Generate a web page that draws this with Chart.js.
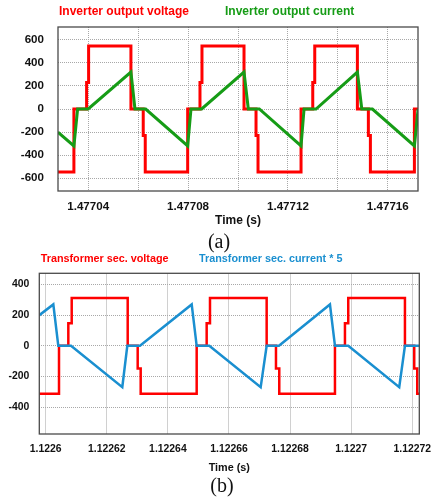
<!DOCTYPE html>
<html>
<head>
<meta charset="utf-8">
<script src="https://cdn.jsdelivr.net/npm/chart.js@4.4.0/dist/chart.umd.min.js"></script>
<style>
  body { margin: 0; background: #fff; }
  #wrap { position: relative; width: 432px; height: 500px; }
  canvas { position: absolute; left: 0; }
  .cap { position: absolute; width: 40px; text-align: center;
         font-family: "Liberation Serif", "Times New Roman", serif;
         font-size: 20px; line-height: 20px; color: #111; }
</style>
</head>
<body>
<div id="wrap">
  <canvas id="chartA" width="432" height="232" style="top:0"></canvas>
  <div class="cap" style="left:199px; top:231px">(a)</div>
  <canvas id="chartB" width="432" height="228" style="top:248px"></canvas>
  <div class="cap" style="left:202px; top:475px">(b)</div>
</div>
<script>
//(a) inverter output, time in seconds
const tVoltA = [1.4770275, 1.47703427, 1.47703427, 1.47703936, 1.47703936, 1.47704016, 1.47704016,
  1.47705711, 1.47705711, 1.47706204, 1.47706204, 1.47706285, 1.47706285, 1.47707984, 1.47707984,
  1.47708477, 1.47708477, 1.47708557, 1.47708557, 1.47710241, 1.47710241, 1.47710722, 1.47710722,
  1.47710802, 1.47710802, 1.47712525, 1.47712525, 1.47712994, 1.47712994, 1.47713074, 1.47713074,
  1.47714782, 1.47714782, 1.47715222, 1.47715222, 1.47715303, 1.47715303, 1.47717066, 1.47717066, 1.4771725];
const vVoltA = [-545, -545, 0, 0, 230, 230, 545, 545, 0, 0, -230, -230, -545, -545, 0, 0, 230, 230, 545, 545,
  0, 0, -230, -230, -545, -545, 0, 0, 230, 230, 545, 545, 0, 0, -230, -230, -545, -545, 0, 0];
const tCurA = [1.47702786, 1.47703427, 1.47703575, 1.47704000, 1.47705711, 1.47705872, 1.47706301,
  1.47707984, 1.47708116, 1.47708545, 1.47710241, 1.47710413, 1.47710854, 1.47712525, 1.47712646,
  1.47713126, 1.47714782, 1.47714958, 1.47715383, 1.47717066, 1.47717214];
const iCurA = [-200, -320, 0, 0, 320, 0, 0, -320, 0, 0, 320, 0, 0, -320, 0, 0, 320, 0, 0, -320, 0];
const xTicksA = [1.47704, 1.47706, 1.47708, 1.4771, 1.47712, 1.47714, 1.47716];
const xLabelsA = ['1.47704', '', '1.47708', '', '1.47712', '', '1.47716'];
const yTicksA = [-600, -400, -200, 0, 200, 400, 600];

//(b) transformer secondary
const tVoltB = [1.1225975, 1.12260435, 1.12260435, 1.1226074, 1.1226074, 1.12260851, 1.12260851,
  1.12262684, 1.12262684, 1.12263011, 1.12263011, 1.12263109, 1.12263109, 1.12264942, 1.12264942,
  1.12265269, 1.12265269, 1.12265378, 1.12265378, 1.12267233, 1.12267233, 1.12267538, 1.12267538,
  1.12267646, 1.12267646, 1.12269469, 1.12269469, 1.12269796, 1.12269796, 1.12269904, 1.12269904,
  1.1227176, 1.1227176, 1.12272064, 1.12272064, 1.12272162, 1.12272162, 1.1227225];
const vVoltB = [-312, -312, 0, 0, 148, 148, 312, 312, 0, 0, -148, -148, -312, -312, 0, 0, 148, 148, 312, 312,
  0, 0, -148, -148, -312, -312, 0, 0, 148, 148, 312, 312, 0, 0, -148, -148, -312, -312];
const tCurB = [1.12259791, 1.12260249, 1.12260412, 1.12260828, 1.12262507, 1.12262671, 1.12263086,
  1.12264779, 1.12264942, 1.12265355, 1.12267037, 1.12267233, 1.12267636, 1.12269305, 1.12269469,
  1.12269904, 1.12271573, 1.1227176, 1.1227225];
const iCurB = [200, 270, 0, 0, -270, 0, 0, 270, 0, 0, -270, 0, 0, 270, 0, 0, -270, 0, 0];
const xTicksB = [1.1226, 1.12262, 1.12264, 1.12266, 1.12268, 1.1227, 1.12272];
const xLabelsB = ['1.1226', '1.12262', '1.12264', '1.12266', '1.12268', '1.1227', '1.12272'];
const yTicksB = [-400, -200, 0, 200, 400];

const FAMILY = '"Liberation Sans", Arial, sans-serif';

//box round the plot area
const frameBox = {
  id: 'frameBox',
  afterDatasetsDraw(chart) {
    const { ctx, chartArea: a } = chart;
    ctx.save();
    ctx.strokeStyle = '#4a4a4a';
    ctx.lineWidth = 1.3;
    ctx.strokeRect(a.left, a.top, a.right - a.left, a.bottom - a.top);
    ctx.restore();
  }
};

//coloured series names above the plot, no swatches
const textLegend = {
  id: 'textLegend',
  afterDraw(chart, args, o) {
    const ctx = chart.ctx;
    ctx.save();
    ctx.font = 'bold ' + o.size + 'px ' + FAMILY;
    ctx.textBaseline = 'middle';
    ctx.textAlign = 'left';
    chart.data.datasets.forEach((ds, i) => {
      ctx.fillStyle = ds.borderColor;
      ctx.fillText(ds.label, o.x[i], o.y);
    });
    ctx.restore();
  }
};

function toPoints(xs, ys) {
  return xs.map((x, i) => ({ x: x, y: ys[i] }));
}

makeChart('chartA', {
  labels: ['Inverter output voltage', 'Inverter output current'],
  tV: tVoltA, vV: vVoltA, tI: tCurA, vI: iCurA,
  curColor: '#169c16', lineWidth: 3, fontSize: 12, tickSize: 11.6,
  xMin: 1.4770279, xMax: 1.4771721, xTicks: xTicksA, xLabels: xLabelsA,
  yMin: -710, yMax: 710, yTicks: yTicksA,
  pad: { top: 27, left: 0, right: 14, bottom: 0 },
  legendX: [59, 225], legendY: 12,
  yAxisW: 58, yTickPad: 14, xAxisH: 41, titlePad: 4,
  vGridColor: '#a8a8a8', vDash: [1, 1]
});

makeChart('chartB', {
  labels: ['Transformer sec. voltage', 'Transformer sec. current * 5'],
  tV: tVoltB, vV: vVoltB, tI: tCurB, vI: iCurB,
  curColor: '#1a8fd0', lineWidth: 2.5, fontSize: 10.8, tickSize: 10.4,
  xMin: 1.1225979, xMax: 1.1227223, xTicks: xTicksB, xLabels: xLabelsB,
  yMin: -575, yMax: 473, yTicks: yTicksB,
  pad: { top: 25.3, left: 0, right: 12.7, bottom: 0 },
  legendX: [40.7, 199], legendY: 11,
  yAxisW: 39.3, yTickPad: 10, xAxisH: 42, titlePad: 1.5,
  vGridColor: '#d0d0d0', vDash: []
});

function makeChart(container, opt) {
  let ctx = document.getElementById(container).getContext('2d');
  const tickFont = { family: FAMILY, size: opt.tickSize, weight: 'bold' };
  return new Chart(ctx, {
    type: 'line',
    data: {
      datasets: [
        { label: opt.labels[0], data: toPoints(opt.tV, opt.vV), borderColor: '#ff0000',
          borderWidth: opt.lineWidth, order: 1 },
        { label: opt.labels[1], data: toPoints(opt.tI, opt.vI), borderColor: opt.curColor,
          borderWidth: opt.lineWidth, order: 0 }
      ]
    },
    options: {
      responsive: false,
      animation: false,
      events: [],
      layout: { padding: opt.pad },
      elements: {
        point: { radius: 0 },
        line: { tension: 0, fill: false, borderJoinStyle: 'miter', borderCapStyle: 'butt' }
      },
      plugins: {
        tooltip: { enabled: false },
        legend: { display: false },
        textLegend: { x: opt.legendX, y: opt.legendY, size: opt.fontSize }
      },
      scales: {
        //time axis
        x: {
          type: 'linear',
          min: opt.xMin,
          max: opt.xMax,
          afterBuildTicks: s => { s.ticks = opt.xTicks.map(v => ({ value: v })); },
          afterFit: s => { s.height = opt.xAxisH; s.paddingLeft = 0; s.paddingRight = 0; },
          ticks: {
            padding: 9, maxRotation: 0, autoSkip: false, color: '#111', font: tickFont,
            callback: (v, i) => opt.xLabels[i]
          },
          grid: { color: opt.vGridColor, drawTicks: false },
          border: { display: false, dash: opt.vDash },
          title: {
            display: true, text: 'Time (s)', color: '#111',
            font: { family: FAMILY, size: opt.fontSize, weight: 'bold' },
            padding: { top: 0, bottom: opt.titlePad }
          }
        },
        //value axis
        y: {
          min: opt.yMin,
          max: opt.yMax,
          afterBuildTicks: s => { s.ticks = opt.yTicks.map(v => ({ value: v })); },
          afterFit: s => { s.width = opt.yAxisW; s.paddingTop = 0; s.paddingBottom = 0; },
          ticks: { padding: opt.yTickPad, color: '#111', font: tickFont },
          grid: { color: '#a8a8a8', drawTicks: false },
          border: { display: false, dash: [1, 1] }
        }
      }
    },
    plugins: [frameBox, textLegend]
  });
}
</script>
</body>
</html>
